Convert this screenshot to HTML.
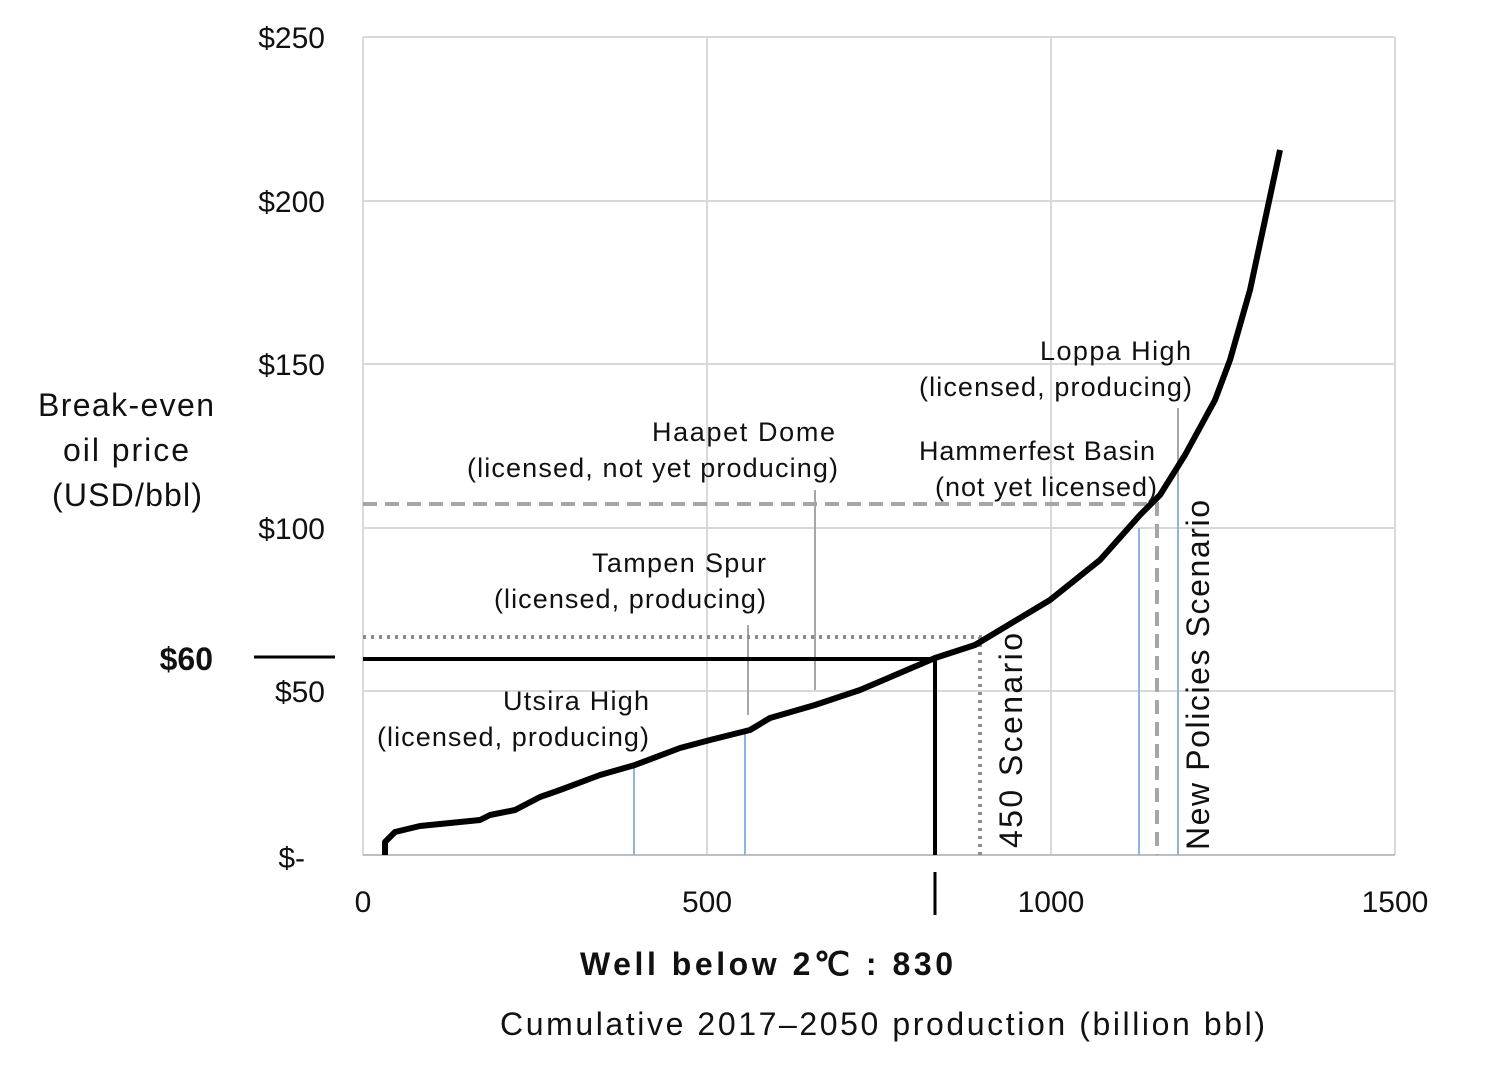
<!DOCTYPE html>
<html><head><meta charset="utf-8"><style>
body{margin:0;background:#fff}
svg text{font-family:"Liberation Sans",sans-serif;fill:#111}
</style></head><body>
<svg width="1500" height="1063" viewBox="0 0 1500 1063">
<g stroke="#d9d9d9" stroke-width="2">
<line x1="363" y1="37" x2="1395" y2="37"/><line x1="363" y1="201" x2="1395" y2="201"/>
<line x1="363" y1="364" x2="1395" y2="364"/><line x1="363" y1="528" x2="1395" y2="528"/>
<line x1="363" y1="691" x2="1395" y2="691"/>
<line x1="363" y1="37" x2="363" y2="855"/><line x1="707" y1="37" x2="707" y2="855"/>
<line x1="1051" y1="37" x2="1051" y2="855"/><line x1="1395" y1="37" x2="1395" y2="855"/>
</g>
<line x1="363" y1="855" x2="1395" y2="855" stroke="#bfbfbf" stroke-width="2"/>
<g font-size="30" text-anchor="end">
<text x="325" y="48">$250</text><text x="325" y="212">$200</text><text x="325" y="375">$150</text>
<text x="325" y="539">$100</text><text x="325" y="702">$50</text><text x="305" y="868">$-</text>
</g>
<text x="213" y="670" font-size="32" font-weight="bold" text-anchor="end">$60</text>
<line x1="254" y1="657" x2="335" y2="657" stroke="#000" stroke-width="3"/>
<g font-size="30" text-anchor="middle">
<text x="363" y="912">0</text><text x="707" y="912">500</text><text x="1051" y="912">1000</text><text x="1395" y="912">1500</text>
</g>
<g font-size="32">
<text x="38" y="416" textLength="176">Break-even</text><text x="63" y="461" textLength="126">oil price</text><text x="52" y="506" textLength="150">(USD/bbl)</text>
</g>
<text x="580" y="975" font-size="32" font-weight="bold" textLength="373">Well below 2℃ : 830</text>
<text x="500" y="1035" font-size="32" textLength="765">Cumulative 2017–2050 production (billion bbl)</text>
<g stroke-width="2">
<line x1="634" y1="855" x2="634" y2="765" stroke="#8fb4e3"/>
<line x1="745" y1="855" x2="745" y2="730" stroke="#8fb4e3"/>
<line x1="1139" y1="855" x2="1139" y2="528" stroke="#8fb4e3"/>
<line x1="1178" y1="855" x2="1178" y2="480" stroke="#8fb4e3"/>
<line x1="1178" y1="480" x2="1178" y2="408" stroke="#a6a6a6"/>
<line x1="815" y1="690" x2="815" y2="490" stroke="#a6a6a6"/>
<line x1="748" y1="715" x2="748" y2="625" stroke="#a6a6a6"/>
</g>
<g stroke="#a6a6a6" stroke-width="4" stroke-dasharray="14,8" fill="none">
<path d="M363 504H1157V855"/>
</g>
<g stroke="#8c8c8c" stroke-width="4" stroke-dasharray="3,5" fill="none">
<path d="M363 637H980V855"/>
</g>
<path d="M363 659H935V855" stroke="#000" stroke-width="4" fill="none"/>
<line x1="935" y1="872" x2="935" y2="915" stroke="#000" stroke-width="3"/>
<path d="M385 855V842L395 832L420 826L480 820L490 815L515 810L540 797L560 790L600 775L635 765L680 748L710 740L750 730L770 718L815 705L860 690L935 658L975 645L1000 630L1050 600L1100 560L1140 515L1160 495L1185 455L1215 400L1230 360L1250 290L1280 150" stroke="#000" stroke-width="6" fill="none" stroke-linejoin="round"/>
<g font-size="27">
<text x="503" y="710" textLength="146">Utsira High</text><text x="377" y="746" textLength="272">(licensed, producing)</text>
<text x="592" y="572" textLength="174">Tampen Spur</text><text x="494" y="608" textLength="272">(licensed, producing)</text>
<text x="652" y="441" textLength="183">Haapet Dome</text><text x="467" y="477" textLength="371">(licensed, not yet producing)</text>
<text x="1040" y="360" textLength="151">Loppa High</text><text x="919" y="396" textLength="273">(licensed, producing)</text>
<text x="919" y="460" textLength="236">Hammerfest Basin</text><text x="935" y="496" textLength="222">(not yet licensed)</text>
</g>
<text transform="translate(1022,848) rotate(-90)" font-size="32" textLength="215">450 Scenario</text>
<text transform="translate(1209,850) rotate(-90)" font-size="32" textLength="350">New Policies Scenario</text>
</svg>
</body></html>
